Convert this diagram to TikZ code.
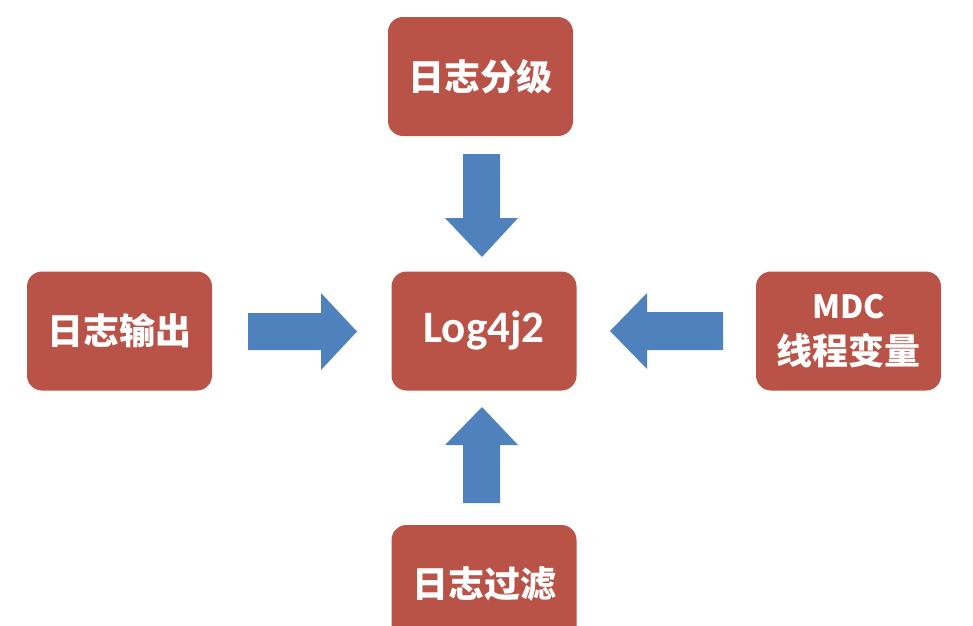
\documentclass[tikz,border=0pt]{standalone}
\usepackage{fontspec}
\newfontfamily\cjk{Noto Sans CJK SC}
\newfontfamily\calib{Carlito}
\definecolor{boxred}{RGB}{185,83,71}
\definecolor{arrblue}{RGB}{79,129,189}
\begin{document}
\begin{tikzpicture}[x=1pt,y=-1pt,
  box/.style={fill=boxred, draw=none, rounded corners=15pt, minimum width=185pt, minimum height=119pt, inner sep=0pt, text=white, align=center},
  zh/.style={font=\cjk\bfseries\fontsize{36}{44}\selectfont},
  blk/.style={fill=arrblue, draw=none}]
\useasboundingbox (0,0) rectangle (973,625);
\node[box, zh] (lev) at (480.5,76.5) {日志分级};
\node[box, font=\calib\bfseries\fontsize{45}{50}\selectfont] (core) at (484,331) {Log4j2};
\node[box, font=\cjk\bfseries\fontsize{36}{46}\selectfont] (mdc) at (848.5,331) {{\fontsize{32}{46}\selectfont MDC}\\线程变量};
\node[box, zh] (out) at (119.5,331) {日志输出};
\node[box, zh] (flt) at (484,584.5) {日志过滤};
% block arrows
\fill[blk] (463,154) -- (500,154) -- (500,218) -- (518,218) -- (482,257) -- (445,218) -- (463,218) -- cycle;
\fill[blk] (463,503) -- (500,503) -- (500,445) -- (518,445) -- (482,407) -- (445,445) -- (463,445) -- cycle;
\fill[blk] (248,313) -- (321,313) -- (321,293) -- (357,331.5) -- (321,370) -- (321,350) -- (248,350) -- cycle;
\fill[blk] (723,312) -- (647,312) -- (647,293) -- (610,331) -- (647,369) -- (647,350) -- (723,350) -- cycle;
\end{tikzpicture}
\end{document}
